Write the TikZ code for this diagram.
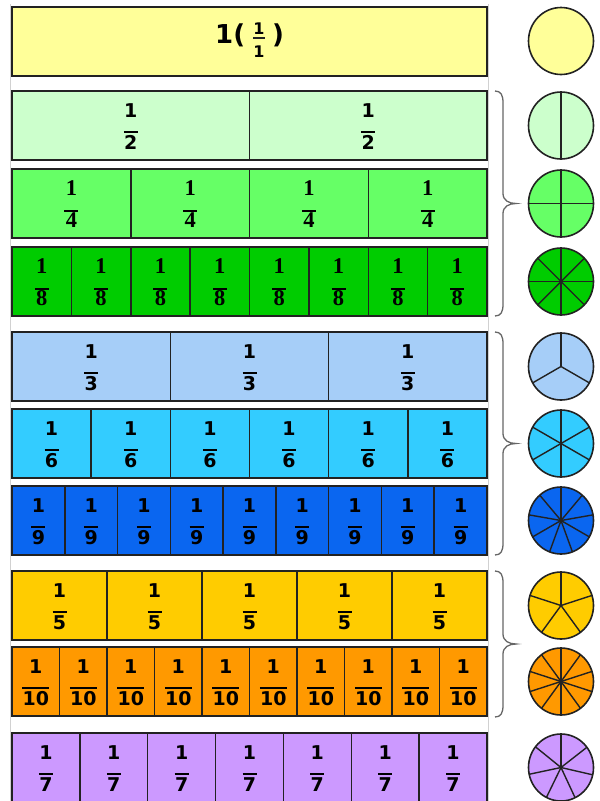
\documentclass[tikz,border=0pt]{standalone}
\usepackage{fontspec}
\setmainfont{DejaVu Sans}
\newfontfamily\serf{Liberation Serif}
\usetikzlibrary{shapes.geometric}
\definecolor{cA}{HTML}{FFFF99}
\definecolor{cB}{HTML}{CCFFCC}
\definecolor{cD}{HTML}{66FF66}
\definecolor{cH}{HTML}{00CC00}
\definecolor{cC}{HTML}{A6CEF8}
\definecolor{cF}{HTML}{33CCFF}
\definecolor{cI}{HTML}{0A66F0}
\definecolor{cE}{HTML}{FFCC00}
\definecolor{cJ}{HTML}{FF9900}
\definecolor{cG}{HTML}{CC99FF}
\definecolor{edge}{HTML}{222222}
\newcommand\myfrac[2]{1\\\rule{#2}{2.2pt}\\#1}
\tikzset{
  bar/.style={draw=edge, line width=2pt},
  divider/.style={draw=edge, line width=1.5pt},
  fracnode/.style={align=center, inner sep=0pt, font=\fontsize{19}{16}\selectfont\bfseries},
  fracS/.style={align=center, inner sep=0pt, font=\fontsize{22.5}{16}\selectfont\bfseries\serf},
  bigtext/.style={inner sep=0pt, font=\fontsize{26}{26}\selectfont\bfseries},
  smalltext/.style={inner sep=0pt, font=\fontsize{16}{16}\selectfont\bfseries},
  pie/.style={ellipse, draw=edge, line width=1.6pt, minimum width=65pt, minimum height=67pt, inner sep=0pt, outer sep=0pt},
  spoke/.style={draw=edge, line width=1.4pt},
  bracepath/.style={draw=black!60, line width=1.3pt},
  frame/.style={draw=black!18, line width=1.5pt}
}
\begin{document}
\begin{tikzpicture}[x=1pt, y=-1pt]
\useasboundingbox (0,0) rectangle (600,801);
% faint frame
\draw[frame] (10.5,4) -- (10.5,801);
\draw[frame] (488.5,4) -- (488.5,801);
% whole bar
\draw[bar, fill=cA] (12,7) rectangle (487,76);
\node[bigtext, anchor=base west] (one) at (215,43) {1(};
\node[smalltext, anchor=base] (onen) at (259,34.5) {1};
\node[smalltext, anchor=base] (oned) at (259,57) {1};
\draw[edge, line width=2pt] ([yshift=-3.5pt]onen.south west) -- ([yshift=-3.5pt]onen.south east);
\node[bigtext, anchor=base west] (onep) at (272,43) {)};
\node[pie, fill=cA] (p1) at (561,41) {};
% fraction rows
\foreach \t/\n/\c/\fl in {91/2/cB/0, 169/4/cD/1, 247/8/cH/1, 332/3/cC/0, 409/6/cF/0, 486/9/cI/0, 571/5/cE/0, 647/10/cJ/0, 733/7/cG/0}{
  \pgfmathtruncatemacro\nm{\n-1}
  \ifnum\fl=1 \def\fst{fracS}\else\def\fst{fracnode}\fi
  \ifnum\n>9 \def\rw{27pt}\else\def\rw{14pt}\fi
  \draw[bar, fill=\c] (12,\t) rectangle (487,\t+69);
  \foreach \k in {1,...,\nm}{
    \draw[divider] ({12+\k*475/\n},\t) -- ({12+\k*475/\n},\t+69);
  }
  \foreach \k in {1,...,\n}{
    \node[\fst] (f\n-\k) at ({12+(\k-0.5)*475/\n},\t+35.5) {\myfrac{\n}{\rw}};
  }
  \node[pie, fill=\c] (p\n) at (561,\t+34.5) {};
  \foreach \k in {1,...,\n}{
    \draw[spoke] (p\n.center) -- (p\n.{90+\k*360/\n});
  }
}
% braces
\foreach \a/\b in {91/316, 332/555, 571/717}{
  \pgfmathsetmacro\m{(\a+\b)/2}
  \draw[bracepath] (495,\a) .. controls (501,\a) and (503,\a+4) .. (503,\a+12)
    -- (503,\m-10) .. controls (503,\m-3) and (509,\m) .. (516,\m)
    .. controls (509,\m) and (503,\m+3) .. (503,\m+10)
    -- (503,\b-12) .. controls (503,\b-4) and (501,\b) .. (495,\b);
}
\end{tikzpicture}
\end{document}
